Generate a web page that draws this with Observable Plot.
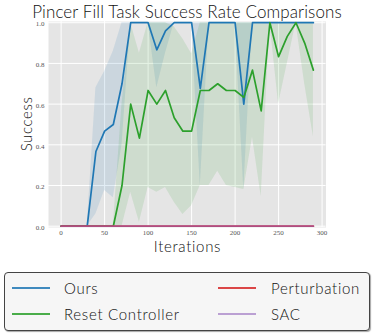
<!DOCTYPE html>
<html><head><meta charset="utf-8">
<script src="https://cdn.jsdelivr.net/npm/d3@7"></script>
<script src="https://cdn.jsdelivr.net/npm/@observablehq/plot@0.6"></script>
<style>
body{margin:0;background:#fff;}
#wrap{position:relative;width:374px;height:335px;font-family:Lato,"Open Sans",sans-serif;font-weight:300;color:#111;overflow:hidden;}
#chart{position:absolute;left:0;top:0;}
#over{position:absolute;left:0;top:0;pointer-events:none;}
#legend{position:absolute;left:4px;top:272px;width:364px;height:57px;border:1px solid #444;border-radius:4px;background:#f6f6f6;box-shadow:1px 1px 1px rgba(0,0,0,0.35);}
.sw{position:absolute;height:1.6px;width:38px;}
.lt{position:absolute;font-size:15px;line-height:18px;white-space:nowrap;color:#111;font-weight:300;letter-spacing:0.7px;}
</style></head>
<body>
<div id="wrap">
  <div id="chart"></div>
  <svg id="over" width="374" height="335">
    <text x="187" y="17.5" text-anchor="middle" font-family="Lato" font-weight="300" font-size="17" letter-spacing="0.1" fill="#111">Pincer Fill Task Success Rate Comparisons</text>
    <text x="187.5" y="252" text-anchor="middle" font-family="Lato" font-weight="300" font-size="15" letter-spacing="0.7" fill="#111">Iterations</text>
    <text transform="translate(32,124) rotate(-90)" text-anchor="middle" font-family="Lato" font-weight="300" font-size="15" letter-spacing="0.6" fill="#111">Success</text>
  </svg>
  <div id="legend"></div>
</div>
<script>
// ---- data ----
const iterations = [0,10,20,30,40,50,60,70,80,90,100,110,120,130,140,150,160,170,180,190,200,210,220,230,240,250,260,270,280,290];
const ours      = [0,0,0,0,0.367,0.467,0.5,0.7,1,1,1,0.867,0.96,1,1,1,0.677,1,1,1,1,0.6,1,1,1,1,1,1,1,1];
const oursLow   = [0,0,0,0,0.06,0.175,0.14,0.4,1,1,1,0.68,0.85,1,1,1,0.2,1,1,1,1,0.18,1,1,1,1,1,1,1,1];
const oursHigh  = [0,0,0,0,0.68,0.76,0.86,1,1,1,1,1,1,1,1,1,1,1,1,1,1,1,1,1,1,1,1,1,1,1];
const reset     = [0,0,0,0,0,0,0,0.2,0.6,0.433,0.667,0.6,0.667,0.533,0.467,0.467,0.667,0.667,0.7,0.667,0.667,0.633,0.767,0.567,1,0.833,0.933,1,0.9,0.767];
const resetLow  = [0,0,0,0,0,0,0,0,0.167,0.02,0.19,0.167,0.19,0.118,0.057,0.1,0.2,0.2,0.27,0.2,0.19,0.18,0.437,0.146,1,0.6,0.8,1,0.7,0.44];
const resetHigh = [0,0,0,0,0,0,0,0.6,1,0.85,1,1,1,0.98,0.92,0.847,1,1,1,1,1,1,1,1,1,1,1,1,1,1];
const perturbation = [0,0,0,0,0,0,0,0,0,0,0,0,0,0,0,0,0,0,0,0,0,0,0,0,0,0,0,0,0,0];
const sac          = [0,0,0,0,0,0,0,0,0,0,0,0,0,0,0,0,0,0,0,0,0,0,0,0,0,0,0,0,0,0];
const xTicks = [0,50,100,150,200,250,300];
const yTicks = [0,0.2,0.4,0.6,0.8,1.0];
const seriesNames = ["Ours","Reset Controller","Perturbation","SAC"];
const colors = ["#1f77b4","#2ca02c","#d62728","#9467bd"];

const rows = iterations.map((x,i)=>({x, ours:ours[i], oursLow:oursLow[i], oursHigh:oursHigh[i],
  reset:reset[i], resetLow:resetLow[i], resetHigh:resetHigh[i], pert:perturbation[i], sac:sac[i]}));

const chart = Plot.plot({
  width:374, height:262,
  marginTop:21, marginBottom:35, marginLeft:48, marginRight:48.5,
  style:{background:"transparent"},
  x:{domain:[-14.5,304.5]},
  y:{domain:[-0.0064,1.006]},
  marks:[
    Plot.frame({fill:"#e5e5e5", stroke:null}),
    Plot.gridX({ticks:xTicks, stroke:"#ffffff", strokeOpacity:1, strokeWidth:1}),
    Plot.gridY({ticks:yTicks, stroke:"#ffffff", strokeOpacity:1, strokeWidth:1}),
    Plot.areaY(rows,{x:"x", y1:"oursLow", y2:"oursHigh", fill:colors[0], fillOpacity:0.13}),
    Plot.areaY(rows,{x:"x", y1:"resetLow", y2:"resetHigh", fill:colors[1], fillOpacity:0.12}),
    Plot.lineY(rows,{x:"x", y:"ours", stroke:colors[0], strokeWidth:1.7}),
    Plot.lineY(rows,{x:"x", y:"reset", stroke:colors[1], strokeWidth:1.7}),
    Plot.lineY(rows,{x:"x", y:"pert", stroke:colors[2], strokeWidth:1.7}),
    Plot.lineY(rows,{x:"x", y:"sac", stroke:colors[3], strokeWidth:1.7, strokeOpacity:0.6}),
    Plot.axisX({ticks:xTicks, tickSize:0, tickPadding:2.5, fontSize:7, fontFamily:"Liberation Serif", fill:"#555", label:null}),
    Plot.axisY({ticks:yTicks, tickSize:0, tickPadding:4, fontSize:7, fontFamily:"Liberation Serif", fill:"#555", label:null, tickFormat:d=>d.toFixed(1), dy:1.5})
  ]
});
document.getElementById("chart").appendChild(chart);

// legend
const lg = document.getElementById("legend");
const pos = [[7,59,15],[7,59,41],[213,266,15],[213,266,41]];
seriesNames.forEach((n,i)=>{
  const [sx,tx,ly] = pos[i];
  const sw = document.createElement("div");
  sw.className="sw"; sw.style.left=sx+"px"; sw.style.top=(ly-0.8)+"px";
  sw.style.background=colors[i]; sw.style.opacity = i===3?0.6:0.85;
  lg.appendChild(sw);
  const t = document.createElement("div");
  t.className="lt"; t.style.left=tx+"px"; t.style.top=(ly-9.5)+"px"; t.textContent=n;
  lg.appendChild(t);
});
</script>
</body></html>
